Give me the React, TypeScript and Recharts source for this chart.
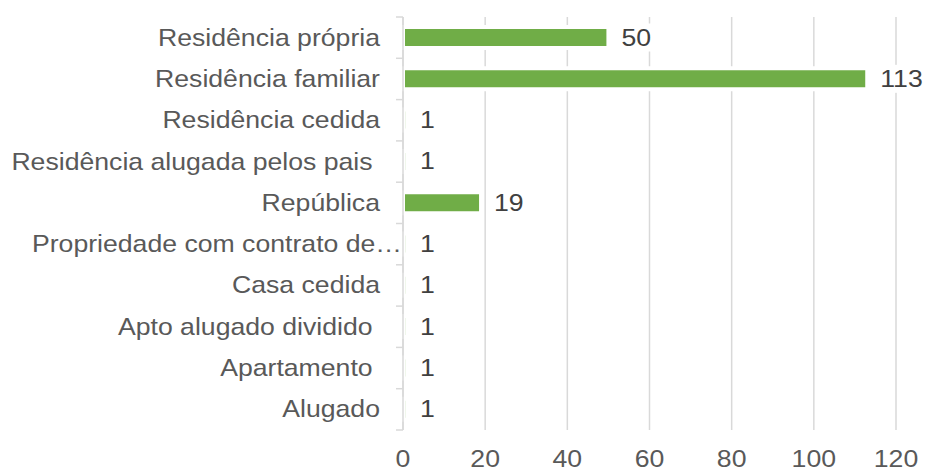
import { BarChart, Bar, XAxis, YAxis, CartesianGrid, LabelList } from "recharts";

const categories = [
  "Residência própria",
  "Residência familiar",
  "Residência cedida",
  "Residência alugada pelos pais ",
  "República",
  "Propriedade com contrato de…",
  "Casa cedida",
  "Apto alugado dividido ",
  "Apartamento ",
  "Alugado",
];
const counts = [50, 113, 1, 1, 19, 1, 1, 1, 1, 1];
const xTicks = [0, 20, 40, 60, 80, 100, 120];

const data = categories.map((name, i) => ({ name, value: counts[i] }));

const W = 931;
const H = 474;
const X_AXIS_H = 30;
const MARGIN = { top: 17, right: 35, bottom: 44 - X_AXIS_H, left: 0 };
const Y_AXIS_W = 403;
const BAND = (H - 17 - 44) / categories.length;
const FONT = "'Liberation Sans', Arial, sans-serif";
const FS = 24;
const STRETCH = 1.11;
const GRID = "#d9d9d9";

function CategoryTick({ x, y, payload, index }: any) {
  const top = y - BAND / 2;
  // truncated labels run right up to the axis
  const gap = String(payload.value).endsWith("…") ? 1 : 23;
  return (
    <g>
      <line x1={x - 7} x2={x} y1={top} y2={top} stroke={GRID} strokeWidth={1.5} />
      {index === categories.length - 1 && (
        <line x1={x - 7} x2={x} y1={y + BAND / 2} y2={y + BAND / 2} stroke={GRID} strokeWidth={1.5} />
      )}
      <g transform={`translate(${x - gap},${y + 8}) scale(${STRETCH},1)`}>
        <text textAnchor="end" fontSize={FS} fontFamily={FONT} fill="#595959" style={{ whiteSpace: "pre" }}>
          {payload.value}
        </text>
      </g>
    </g>
  );
}

function ValueTick({ x, y, payload }: any) {
  return (
    <g transform={`translate(${x},${y + 37}) scale(${STRETCH},1)`}>
      <text textAnchor="middle" fontSize={FS} fontFamily={FONT} fill="#595959">
        {payload.value}
      </text>
    </g>
  );
}

function BarValue({ x, y, width, height, value }: any) {
  const tx = x + width + 13;
  const ty = y + height / 2;
  const w = String(value).length * 0.556 * FS * STRETCH;
  return (
    <g>
      <rect x={tx - 2} y={ty - 14} width={w + 4} height={28} fill="#fff" />
      <g transform={`translate(${tx},${ty + 8}) scale(${STRETCH},1)`}>
        <text fontSize={FS} fontFamily={FONT} fill="#404040">
          {value}
        </text>
      </g>
    </g>
  );
}

export default function App() {
  return (
    <div style={{ position: "absolute", left: 0, top: 0, background: "#fff" }}>
      <BarChart width={W} height={H} data={data} layout="vertical" margin={MARGIN} barSize={21}>
        <CartesianGrid horizontal={false} stroke={GRID} strokeWidth={1.5} />
        <Bar
          dataKey="value"
          fill="#70AD47"
          stroke="#fff"
          strokeWidth={4}
          isAnimationActive={false}
        >
          <LabelList dataKey="value" content={<BarValue />} />
        </Bar>
        <XAxis
          type="number"
          domain={[0, 120]}
          ticks={xTicks}
          interval={0}
          height={X_AXIS_H}
          axisLine={false}
          tickLine={false}
          tickSize={0}
          tickMargin={0}
          tick={<ValueTick />}
        />
        <YAxis
          type="category"
          dataKey="name"
          width={Y_AXIS_W}
          interval={0}
          axisLine={{ stroke: GRID, strokeWidth: 1.5 }}
          tickLine={false}
          tickSize={0}
          tickMargin={0}
          tick={<CategoryTick />}
        />
      </BarChart>
    </div>
  );
}
